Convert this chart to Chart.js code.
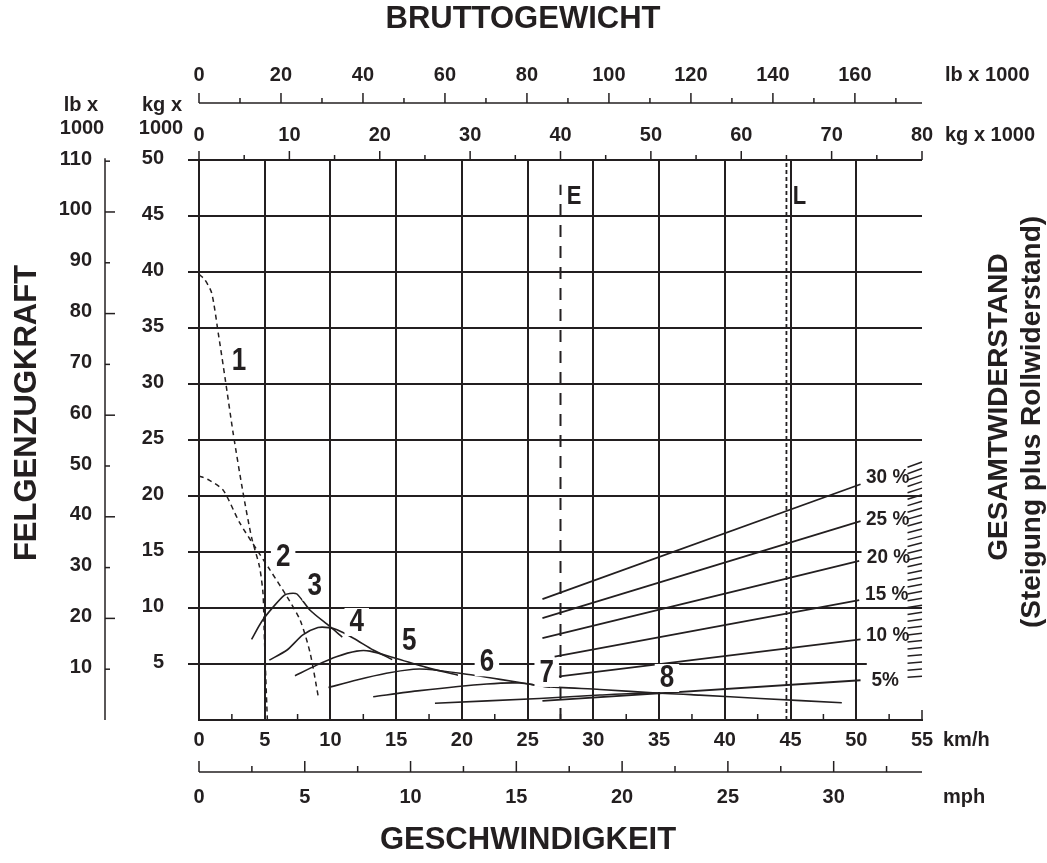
<!DOCTYPE html>
<html>
<head>
<meta charset="utf-8">
<title>Felgenzugkraft / Geschwindigkeit / Bruttogewicht</title>
<script src="https://cdn.jsdelivr.net/npm/chart.js@4.4.1/dist/chart.umd.min.js"></script>
<style>
  html, body { margin: 0; padding: 0; background: #ffffff; }
  #wrap { position: relative; width: 1047px; height: 863px; }
</style>
</head>
<body>
<div id="wrap"><canvas id="chart"></canvas></div>
<script>
// ---- Axis tick values ----
const kmhTicks      = [0, 5, 10, 15, 20, 25, 30, 35, 40, 45, 50, 55];
const mphTicks      = [0, 5, 10, 15, 20, 25, 30];
const kgWeightTicks = [0, 10, 20, 30, 40, 50, 60, 70, 80];
const lbWeightTicks = [0, 20, 40, 60, 80, 100, 120, 140, 160];
const kgForceTicks  = [5, 10, 15, 20, 25, 30, 35, 40, 45, 50];
const lbForceTicks  = [10, 20, 30, 40, 50, 60, 70, 80, 90, 100, 110];

// ---- Rimpull per gear: [speed km/h, rimpull kg x 1000] ----
const gear1 = [[0, 39.8], [0.45, 39.3], [0.97, 38.1], [1.47, 34.5], [2.0, 30.4], [2.6, 25.6], [3.35, 20.3],
               [4.0, 16.3], [4.6, 13.7], [4.87, 11.3], [4.95, 8.3], [5.08, 3.8], [5.2, 0]];
const gear2 = [[0, 21.8], [0.8, 21.4], [1.85, 20.5], [3.1, 17.6], [4.4, 15.2], [5.4, 13.4], [6.7, 11.0],
               [7.7, 8.9], [8.45, 6.0], [9.07, 2.1]];
const gear3 = [[4.0, 7.2], [4.77, 8.8], [5.65, 10.1], [6.5, 11.15], [6.9, 11.3], [7.45, 11.25], [8.45, 9.8],
               [9.95, 8.35], [10.9, 7.4]];
const gear4 = [[5.35, 5.35], [6.7, 6.25], [7.9, 7.6], [9.05, 8.25], [9.85, 8.25], [10.5, 8.05], [11.75, 7.3],
               [13.25, 6.25], [14.7, 5.4]];
const gear5 = [[7.3, 3.95], [8.95, 4.9], [10.45, 5.65], [12.0, 6.15], [13.0, 6.15], [15.0, 5.5], [17.3, 4.7],
               [19.7, 4.0]];
const gear6 = [[9.85, 2.9], [12.0, 3.57], [14.25, 4.17], [16.3, 4.53], [17.3, 4.53], [19.85, 4.17], [22.9, 3.63],
               [25.9, 3.06], [26.7, 2.93]];
const gear7 = [[13.25, 2.08], [16.8, 2.62], [21.9, 3.21], [24.4, 3.3], [26.3, 3.0], [30.5, 2.72], [35.1, 2.38]];
const gear8 = [[17.95, 1.5], [25.9, 1.92], [30.5, 2.23], [34.3, 2.41], [38.1, 2.22], [42.7, 1.92], [48.9, 1.54]];
const gearNames = ['1', '2', '3', '4', '5', '6', '7', '8'];
const gearLabelSpeed = [3.05, 6.4, 8.8, 12.0, 16.0, 21.9, 26.45, 35.6];
const gearLabelPull  = [32.0, 14.55, 11.9, 8.75, 7.05, 5.15, 4.2, 3.75];

// ---- Total resistance lines: gross weight (kg x 1000) -> resistance (kg x 1000) ----
const gradeNames       = ['30 %', '25 %', '20 %', '15 %', '10 %', '5%'];
const gradePct         = [30, 25, 20, 15, 10, 5];
const gradeStartWeight = [38.0, 38.0, 38.0, 39.35, 39.45, 38.0];
const gradeStartForce  = [10.8, 9.1, 7.3, 5.65, 3.85, 1.7];
const gradeEndWeight   = [73.2, 73.2, 73.05, 73.05, 73.2, 73.2];
const gradeEndForce    = [21.05, 17.75, 14.2, 10.7, 7.2, 3.55];
const gradeLabelWeight = [73.8, 73.8, 73.9, 73.7, 73.8, 74.4];
const gradeLabelForce  = [21.65, 17.9, 14.5, 11.2, 7.55, 3.55];

// ---- Empty / loaded gross weight ----
const markerNames   = ['E', 'L'];
const markerWeights = [40, 65];
const markerTops    = [47.8, 50];

// ---- Unit conversions ----
const KMH_PER_MPH = 1.609344;
const LB_PER_KG = 2.20462;

const INK = '#231f20';
const FONT = "'Liberation Sans', Arial, Helvetica, sans-serif";

const toPoints = arr => arr.map(([x, y]) => ({ x, y }));

function gearSet(arr, dashed) {
  return {
    data: toPoints(arr),
    xAxisID: 'x', yAxisID: 'y',
    borderColor: INK,
    borderWidth: dashed ? 1.5 : 1.6,
    borderDash: dashed ? [5, 4] : [],
    pointRadius: 0,
    tension: 0.25,
    fill: false
  };
}

const datasets = [
  gearSet(gear1, true), gearSet(gear2, true),
  gearSet(gear3), gearSet(gear4), gearSet(gear5), gearSet(gear6), gearSet(gear7), gearSet(gear8)
];

gradePct.forEach((g, i) => {
  datasets.push({
    data: [{ x: gradeStartWeight[i], y: gradeStartForce[i] }, { x: gradeEndWeight[i], y: gradeEndForce[i] }],
    xAxisID: 'xw', yAxisID: 'y',
    borderColor: INK, borderWidth: 1.8, pointRadius: 0, tension: 0, fill: false
  });
});

markerWeights.forEach((w, i) => {
  datasets.push({
    data: [{ x: w, y: 0 }, { x: w, y: markerTops[i] }],
    xAxisID: 'xw', yAxisID: 'y',
    borderColor: INK, borderWidth: i === 0 ? 2 : 1.8,
    borderDash: i === 0 ? [12, 9] : [4, 3],
    pointRadius: 0, tension: 0, fill: false
  });
});

// ---- drawing helpers ----
function seg(ctx, x1, y1, x2, y2) {
  ctx.beginPath(); ctx.moveTo(x1, y1); ctx.lineTo(x2, y2); ctx.stroke();
}
// sx < 1 narrows the glyphs for the condensed figure labels
function text(ctx, s, x, y, size, align = 'center', rot = 0, sx = 1) {
  ctx.save();
  ctx.font = `bold ${size}px ${FONT}`;
  ctx.fillStyle = INK;
  ctx.textAlign = align;
  ctx.textBaseline = 'middle';
  ctx.translate(x, y);
  if (rot) ctx.rotate(rot);
  if (sx !== 1) ctx.scale(sx, 1);
  ctx.fillText(s, 0, 0);
  ctx.restore();
}
function boxedText(ctx, s, x, y, size, align, padX, halfH, sx = 1) {
  ctx.save();
  ctx.font = `bold ${size}px ${FONT}`;
  const w = ctx.measureText(s).width * sx;
  const left = align === 'left' ? x : x - w / 2;
  ctx.fillStyle = '#ffffff';
  ctx.fillRect(left - padX, y - halfH, w + 2 * padX, 2 * halfH);
  ctx.restore();
  text(ctx, s, x, y, size, align, 0, sx);
}

// horizontal grid lines that stop short of the right edge (km/h)
const shortGrid = { 5: 50.8, 15: 50.4 };

const framePlugin = {
  id: 'frame',
  beforeDatasetsDraw(chart) {
    const { ctx, chartArea: a, scales: { x, y } } = chart;
    ctx.save();
    ctx.strokeStyle = INK;
    ctx.lineWidth = 2;
    // horizontal grid with short outward ticks on the left
    kgForceTicks.forEach(v => {
      const py = Math.round(y.getPixelForValue(v));
      const endKmh = shortGrid[v] !== undefined ? shortGrid[v] : 55;
      seg(ctx, a.left - 11, py, x.getPixelForValue(endKmh), py);
    });
    // vertical grid
    kmhTicks.forEach(v => {
      if (v > 0 && v < 55) {
        const px = Math.round(x.getPixelForValue(v));
        seg(ctx, px, a.top, px, a.bottom);
      }
    });
    // left and bottom frame
    seg(ctx, a.left, a.top, a.left, a.bottom + 1);
    seg(ctx, a.left - 1, a.bottom, a.right + 1, a.bottom);
    // inward minor ticks on the speed axis
    ctx.lineWidth = 1.5;
    for (let v = 2.5; v <= 55; v += 5) {
      const px = x.getPixelForValue(v);
      seg(ctx, px, a.bottom, px, a.bottom - 6);
    }
    seg(ctx, x.getPixelForValue(55), a.bottom, x.getPixelForValue(55), a.bottom - 10);
    ctx.restore();
  },
  afterDatasetsDraw(chart) {
    const { ctx, chartArea: a, scales: { x, y, xw } } = chart;
    ctx.save();
    ctx.strokeStyle = INK;

    // gear numbers
    gearNames.forEach((n, i) => {
      boxedText(ctx, n, x.getPixelForValue(gearLabelSpeed[i]), y.getPixelForValue(gearLabelPull[i]), 31, 'center', 5, 14, 0.84);
    });
    // grade labels
    gradeNames.forEach((n, i) => {
      boxedText(ctx, n, xw.getPixelForValue(gradeLabelWeight[i]), y.getPixelForValue(gradeLabelForce[i]), 20, 'left', 2, 10, 0.95);
    });
    // E / L
    markerNames.forEach((n, i) => {
      text(ctx, n, xw.getPixelForValue(markerWeights[i] + 0.7), y.getPixelForValue(46.7), 25, 'left', 0, 0.88);
    });

    // total resistance hatch: extensions of the grade lines at the right edge
    ctx.lineWidth = 1.5;
    const N = 32;
    for (let k = 0; k < N; k++) {
      const g = 5 + 25 * k / (N - 1);
      let i = 0;
      while (i < gradePct.length - 2 && g < gradePct[i + 1]) i++;
      const t = (g - gradePct[i + 1]) / (gradePct[i] - gradePct[i + 1]);
      const lerp = (arr) => arr[i + 1] + (arr[i] - arr[i + 1]) * t;
      const w1 = lerp(gradeStartWeight), f1 = lerp(gradeStartForce);
      const w2 = lerp(gradeEndWeight), f2 = lerp(gradeEndForce);
      const at = w => f1 + (f2 - f1) * (w - w1) / (w2 - w1);
      seg(ctx, xw.getPixelForValue(78.4), y.getPixelForValue(at(78.4)),
               xw.getPixelForValue(80), y.getPixelForValue(at(80)));
    }
    ctx.restore();
  },
  afterDraw(chart) {
    const { ctx, chartArea: a, scales: { x, y, xw } } = chart;
    ctx.save();
    ctx.strokeStyle = INK;

    // ---- top: gross weight, lb x 1000 ----
    const lbLineY = a.top - 57;
    ctx.lineWidth = 1.5;
    seg(ctx, a.left, lbLineY, xw.getPixelForValue(80), lbLineY);
    for (let v = 0; v <= 170; v += 10) {
      const px = xw.getPixelForValue(v / LB_PER_KG);
      seg(ctx, px, lbLineY, px, lbLineY - (v % 20 === 0 ? 10 : 5));
    }
    lbWeightTicks.forEach(v => text(ctx, String(v), xw.getPixelForValue(v / LB_PER_KG), a.top - 85, 20));
    text(ctx, 'lb x 1000', a.right + 23, a.top - 85, 20, 'left');

    // ---- top: gross weight, kg x 1000 ----
    ctx.lineWidth = 2;
    seg(ctx, a.left - 11, a.top, xw.getPixelForValue(80), a.top);
    ctx.lineWidth = 1.5;
    for (let v = 0; v <= 80; v += 5) {
      const px = xw.getPixelForValue(v);
      seg(ctx, px, a.top, px, a.top - (v % 10 === 0 ? 9 : 5));
    }
    kgWeightTicks.forEach(v => text(ctx, String(v), xw.getPixelForValue(v), a.top - 25, 20));
    text(ctx, 'kg x 1000', a.right + 23, a.top - 25, 20, 'left');

    // ---- left: rimpull, kg x 1000 ----
    kgForceTicks.forEach(v => text(ctx, String(v), a.left - 35, y.getPixelForValue(v) - 2, 20, 'right'));
    text(ctx, 'kg x', a.left - 37, a.top - 55, 20);
    text(ctx, '1000', a.left - 38, a.top - 32, 20);

    // ---- left: rimpull, lb x 1000 ----
    const lbAxisX = a.left - 94;
    ctx.lineWidth = 1.5;
    seg(ctx, lbAxisX, y.getPixelForValue(110 / LB_PER_KG) - 3, lbAxisX, a.bottom);
    for (let v = 10; v <= 110; v += 10) {
      const py = y.getPixelForValue(v / LB_PER_KG);
      seg(ctx, lbAxisX, py, lbAxisX + (v % 20 === 0 ? 10 : 5), py);
    }
    lbForceTicks.forEach(v => text(ctx, String(v), lbAxisX - 13, y.getPixelForValue(v / LB_PER_KG) - 2, 20, 'right'));
    text(ctx, 'lb x', a.left - 118, a.top - 55, 20);
    text(ctx, '1000', a.left - 117, a.top - 32, 20);

    // ---- bottom: speed km/h ----
    kmhTicks.forEach(v => text(ctx, String(v), x.getPixelForValue(v), a.bottom + 20, 20));
    text(ctx, 'km/h', a.right + 21, a.bottom + 20, 20, 'left');

    // ---- bottom: speed mph ----
    const mphLineY = a.bottom + 52;
    ctx.lineWidth = 1.5;
    seg(ctx, a.left, mphLineY, a.right, mphLineY);
    for (let v = 0; v * KMH_PER_MPH <= 55; v += 2.5) {
      const px = x.getPixelForValue(v * KMH_PER_MPH);
      seg(ctx, px, mphLineY, px, mphLineY - (v % 5 === 0 ? 11 : 6));
    }
    mphTicks.forEach(v => text(ctx, String(v), x.getPixelForValue(v * KMH_PER_MPH), a.bottom + 77, 20));
    text(ctx, 'mph', a.right + 21, a.bottom + 77, 20, 'left');

    // ---- titles ----
    text(ctx, 'BRUTTOGEWICHT', 523, 19, 31);
    text(ctx, 'GESCHWINDIGKEIT', 528, 840, 31);
    text(ctx, 'FELGENZUGKRAFT', 27, 413, 31, 'center', -Math.PI / 2);
    text(ctx, 'GESAMTWIDERSTAND', 999, 407, 28, 'center', -Math.PI / 2);
    text(ctx, '(Steigung plus Rollwiderstand)', 1032, 422, 28, 'center', -Math.PI / 2);
    ctx.restore();
  }
};

new Chart(document.getElementById('chart'), {
  type: 'line',
  data: { datasets },
  options: {
    responsive: true,
    maintainAspectRatio: false,
    devicePixelRatio: 1,
    animation: false,
    events: [],
    layout: { padding: { left: 199, right: 125, top: 160, bottom: 143 } },
    scales: {
      x:  { type: 'linear', min: 0, max: 55, display: false },
      xw: { type: 'linear', min: 0, max: 80, display: false },
      y:  { type: 'linear', min: 0, max: 50, display: false }
    },
    plugins: { legend: { display: false }, tooltip: { enabled: false }, title: { display: false } }
  },
  plugins: [framePlugin]
});
</script>
</body>
</html>
